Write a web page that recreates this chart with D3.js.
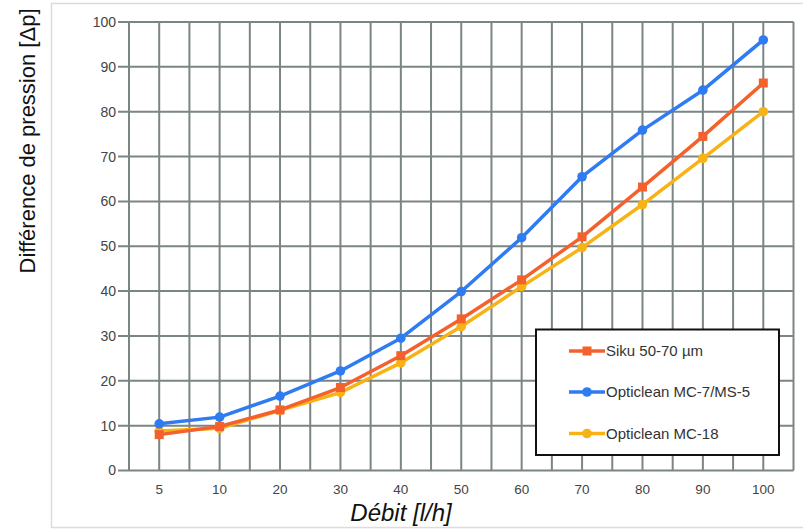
<!DOCTYPE html>
<html><head><meta charset="utf-8">
<script src="https://cdn.jsdelivr.net/npm/d3@7"></script>
<style>body{margin:0;background:#fff;}svg{display:block;font-family:Arial,"Liberation Sans",sans-serif;}</style>
</head><body><svg id="c" width="803" height="531"></svg>
<script>
const categories = ["5","10","20","30","40","50","60","70","80","90","100"];
const siku = [8, 9.8, 13.5, 18.5, 25.6, 33.8, 42.5, 52.1, 63.2, 74.5, 86.4];
const mc7 = [10.4, 11.9, 16.6, 22.2, 29.5, 39.9, 51.9, 65.5, 75.9, 84.8, 96];
const mc18 = [8.8, 9.4, 13.4, 17.4, 24.0, 32.1, 41.0, 49.7, 59.3, 69.6, 80.0];
const yTicks = [0,10,20,30,40,50,60,70,80,90,100];
const seriesNames = ["Siku 50-70 µm","Opticlean MC-7/MS-5","Opticlean MC-18"];

const series = [
  {name: seriesNames[0], values: siku, color: "#f5612c", shape: "square"},
  {name: seriesNames[1], values: mc7, color: "#2f7bf2", shape: "circle"},
  {name: seriesNames[2], values: mc18, color: "#f7b315", shape: "circle"}
];

const svg = d3.select("#c");
// panel
svg.append("rect").attr("x",51.5).attr("y",3.5).attr("width",760).attr("height",524)
  .attr("fill","#fff").attr("stroke","#dcdcdc").attr("stroke-width",1.5);

const L = 129, R = 793.5, T = 22, B = 470.5;
const x = d3.scaleBand().domain(categories).range([L, R]).padding(0);
const y = d3.scaleLinear().domain([0,100]).range([B, T]);
const gridColor = "#7b8584";

const g = svg.append("g");
// vertical grid lines: band edges and band centers
const vx = [];
categories.forEach(c => { vx.push(x(c)); vx.push(x(c) + x.bandwidth()/2); });
vx.push(R);
g.selectAll("line.v").data(vx).join("line").attr("class","v")
  .attr("x1", d=>d).attr("x2", d=>d).attr("y1", T).attr("y2", B)
  .attr("stroke", gridColor).attr("stroke-width", 2);
// horizontal grid lines
g.selectAll("line.h").data(yTicks).join("line").attr("class","h")
  .attr("x1", L - 11).attr("x2", R).attr("y1", d=>y(d)).attr("y2", d=>y(d))
  .attr("stroke", gridColor).attr("stroke-width", 2);

// y axis labels
const yAxis = d3.axisLeft(y).tickValues(yTicks).tickSize(0).tickPadding(13);
const ya = svg.append("g").attr("transform", `translate(${L},0)`).call(yAxis);
ya.select(".domain").remove();
ya.selectAll("text").attr("font-size", 14).attr("fill", "#444").attr("font-family","Arial, 'Liberation Sans', sans-serif");

// x axis labels
const xAxis = d3.axisBottom(x).tickSize(0).tickPadding(14);
const xa = svg.append("g").attr("transform", `translate(0,${B})`).call(xAxis);
xa.select(".domain").remove();
xa.selectAll("text").attr("font-size", 13.5).attr("fill", "#444").attr("font-family","Arial, 'Liberation Sans', sans-serif");

// titles
svg.append("text").attr("x", 401).attr("y", 521).attr("text-anchor","middle")
  .attr("font-size", 24).attr("font-style","italic").attr("fill","#111").text("Débit [l/h]");
svg.append("text").attr("transform","translate(35,141) rotate(-90)").attr("text-anchor","middle")
  .attr("font-size", 22).attr("fill","#111").text("Différence de pression [Δp]");

// lines
const cx = c => x(c) + x.bandwidth()/2;
const line = d3.line().x((d,i)=>cx(categories[i])).y(d=>y(d));
function marker(sel, s, px, py) {
  if (s.shape === "square") {
    sel.append("rect").attr("x", px-4.5).attr("y", py-4.5).attr("width",9).attr("height",9).attr("fill", s.color);
  } else {
    sel.append("circle").attr("cx", px).attr("cy", py).attr("r", 4.8).attr("fill", s.color);
  }
}
const drawOrder = [series[2], series[0], series[1]];
drawOrder.forEach(s => {
  svg.append("path").datum(s.values).attr("d", line).attr("fill","none")
    .attr("stroke", s.color).attr("stroke-width", 3.5).attr("stroke-linejoin","round");
  const mg = svg.append("g");
  s.values.forEach((v,i) => marker(mg, s, cx(categories[i]), y(v)));
});

// legend
const lg = svg.append("g");
lg.append("rect").attr("x",536).attr("y",329.5).attr("width",243).attr("height",125.5)
  .attr("fill","#fff").attr("stroke","#111").attr("stroke-width",2);
const rowsY = [351, 392, 433.5];
series.forEach((s,i) => {
  lg.append("line").attr("x1",569).attr("x2",605).attr("y1",rowsY[i]).attr("y2",rowsY[i])
    .attr("stroke", s.color).attr("stroke-width",3.5);
  marker(lg, s, 587, rowsY[i]);
  lg.append("text").attr("x",606).attr("y",rowsY[i]+5).attr("font-size",15).attr("fill","#333").text(s.name);
});
</script></body></html>
